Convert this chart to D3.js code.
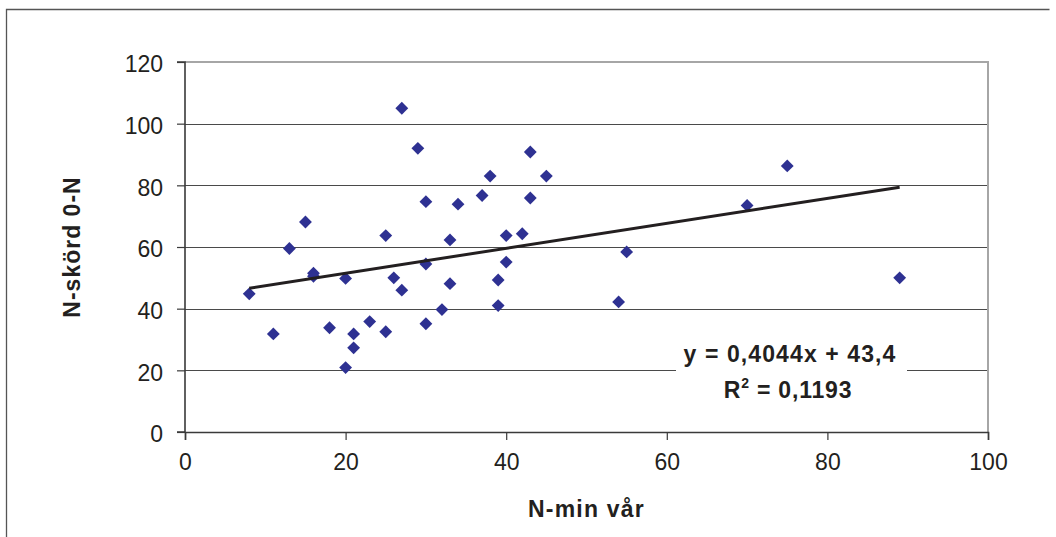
<!DOCTYPE html>
<html>
<head>
<meta charset="utf-8">
<script src="https://cdn.jsdelivr.net/npm/d3@7"></script>
<style>
  html, body { margin: 0; padding: 0; background: #fff; }
  svg { display: block; }
  text { font-family: "Liberation Sans", Arial, sans-serif; fill: #231f20; }
</style>
</head>
<body>
<svg id="chart" width="1056" height="537"></svg>
<script>
// ---- data ----
const nMinVar = [8, 11, 13, 15, 16, 16, 18, 20, 20, 21, 21, 23, 25, 25, 26, 27, 27, 29, 30, 30,
                 30, 32, 33, 33, 34, 37, 38, 39, 39, 40, 40, 42, 43, 43, 45, 54, 55, 70, 75, 89];
const nSkord = [44.8, 31.8, 59.5, 68.1, 51.5, 50.5, 33.8, 49.8, 20.9, 31.8, 27.3, 35.8, 63.7, 32.5, 50, 46, 105, 92, 74.7, 54.5,
                35.1, 39.7, 62.3, 48.1, 73.9, 76.7, 83, 49.3, 41, 63.7, 55.1, 64.3, 90.8, 75.9, 83, 42.2, 58.4, 73.5, 86.3, 50];
const xTicks = [0, 20, 40, 60, 80, 100];
const yTicks = [0, 20, 40, 60, 80, 100, 120];
const trendSlope = 0.4044;
const trendIntercept = 43.4;
const eqLine1 = "y = 0,4044x + 43,4";
const eqLine2Pre = "R";
const eqLine2Sup = "2";
const eqLine2Post = " = 0,1193";
const xTitle = "N-min vår";
const yTitle = "N-skörd 0-N";

// ---- layout ----
const svg = d3.select("#chart");
const pL = 185, pR = 988, pT = 62, pB = 432;
const x = d3.scaleLinear().domain([0, 100]).range([pL, pR]);
const y = d3.scaleLinear().domain([0, 120]).range([pB, pT]);

// outer frame (left + top, bottom runs off the picture)
svg.append("path")
  .attr("d", `M6.5,545 V9.5 H1049.5`)
  .attr("fill", "none").attr("stroke", "#555").attr("stroke-width", 1.3);

// gridlines
svg.append("g").selectAll("line")
  .data(yTicks.filter(t => t > 0 && t < 120))
  .join("line")
  .attr("x1", pL).attr("x2", pR)
  .attr("y1", d => Math.round(y(d)) + 0.5).attr("y2", d => Math.round(y(d)) + 0.5)
  .attr("stroke", "#4a4a4a").attr("stroke-width", 1.1);

// plot area top and right border
svg.append("path")
  .attr("d", `M${pL},${pT} H${pR} V${pB}`)
  .attr("fill", "none").attr("stroke", "#a6a6a6").attr("stroke-width", 2);

// axes
const yAxis = d3.axisLeft(y).tickValues(yTicks).tickSize(8).tickPadding(14).tickFormat(d3.format("d"));
const xAxis = d3.axisBottom(x).tickValues(xTicks).tickSize(8).tickPadding(14).tickFormat(d3.format("d"));

const gy = svg.append("g").attr("transform", `translate(${pL},0)`).call(yAxis);
const gx = svg.append("g").attr("transform", `translate(0,${pB})`).call(xAxis);
[gy, gx].forEach(g => {
  g.select(".domain").attr("stroke", "#3a3a3a").attr("stroke-width", 1.6);
  g.selectAll(".tick line").attr("stroke", "#3a3a3a").attr("stroke-width", 1.2);
  g.selectAll(".tick text")
    .attr("font-family", "'Liberation Sans', Arial, sans-serif")
    .attr("font-size", 23).attr("fill", "#231f20");
});
gy.select(".domain").attr("d", `M-8,${pB}H0V${pT}H-8`);
gy.selectAll(".tick text").attr("x", -22).attr("dy", "0.42em");
gx.selectAll(".tick text").attr("y", 22).attr("dy", "0.71em");

// points (diamonds)
const pts = nMinVar.map((v, i) => [v, nSkord[i]]);
const diamond = d3.symbol().type(d3.symbolDiamond2).size(105);
svg.append("g").selectAll("path")
  .data(pts)
  .join("path")
  .attr("d", diamond)
  .attr("transform", d => `translate(${x(d[0])},${y(d[1])})`)
  .attr("fill", "#2e3192");

// trend line
const xMin = d3.min(nMinVar), xMax = d3.max(nMinVar);
svg.append("line")
  .attr("x1", x(xMin)).attr("y1", y(trendSlope * xMin + trendIntercept))
  .attr("x2", x(xMax)).attr("y2", y(trendSlope * xMax + trendIntercept))
  .attr("stroke", "#231f20").attr("stroke-width", 3);

// equation label
const eqG = svg.append("g");
eqG.append("rect").attr("x", 676).attr("y", 338).attr("width", 231).attr("height", 68).attr("fill", "#fff");
eqG.append("text").attr("x", 790).attr("y", 362).attr("text-anchor", "middle")
  .attr("font-size", 23).attr("font-weight", "bold").attr("letter-spacing", 1.1)
  .text(eqLine1);
const t2 = eqG.append("text").attr("x", 788).attr("y", 398).attr("text-anchor", "middle")
  .attr("font-size", 23).attr("font-weight", "bold").attr("letter-spacing", 0.8);
t2.append("tspan").text(eqLine2Pre);
t2.append("tspan").attr("dy", -10).attr("font-size", 14).text(eqLine2Sup);
t2.append("tspan").attr("dy", 10).text(eqLine2Post);

// axis titles
svg.append("text").attr("x", (pL + pR) / 2).attr("y", 517).attr("text-anchor", "middle")
  .attr("font-size", 23).attr("font-weight", "bold").attr("letter-spacing", 1.2)
  .text(xTitle);
svg.append("text")
  .attr("transform", `translate(80,${(pT + pB) / 2}) rotate(-90)`)
  .attr("text-anchor", "middle")
  .attr("font-size", 23).attr("font-weight", "bold").attr("letter-spacing", 1)
  .text(yTitle);
</script>
</body>
</html>
